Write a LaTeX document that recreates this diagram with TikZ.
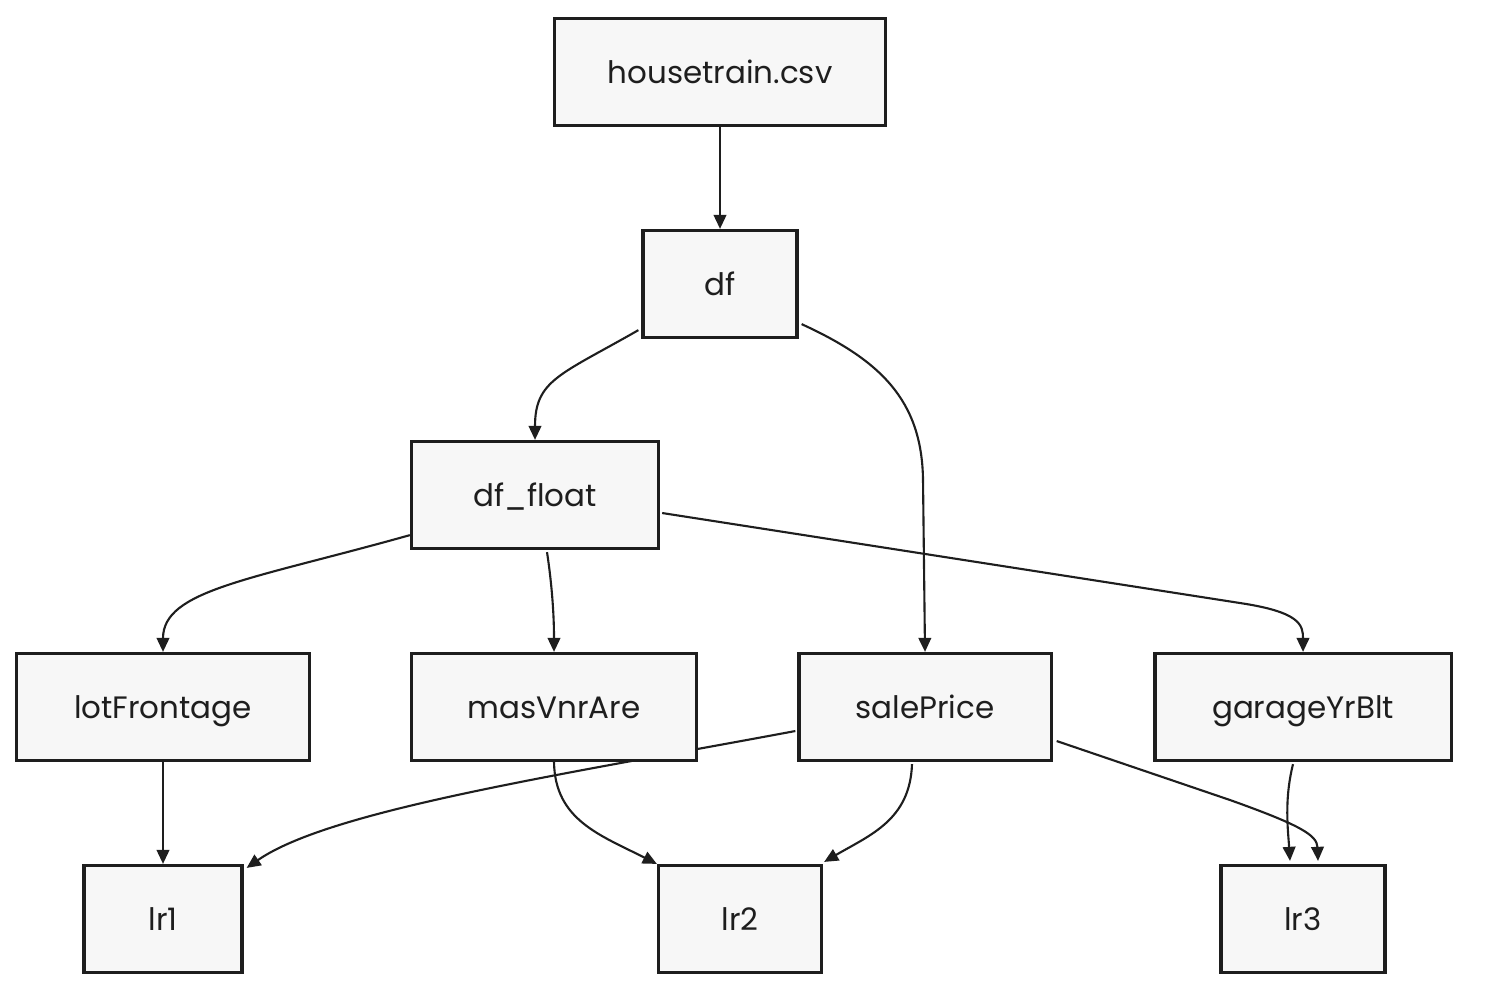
\documentclass[tikz,border=0pt]{standalone}
\usepackage{fontspec}
\setmainfont{Poppins}
\usepackage{tikz}
\usetikzlibrary{arrows.meta,calc,backgrounds}

\definecolor{inkc}{HTML}{1E1E1E}
\definecolor{boxfill}{HTML}{F7F7F7}

\tikzset{
    databox/.style={draw=inkc, fill=boxfill, line width=0.9pt, minimum height=1.07cm,
        inner sep=0pt, text height=6.8pt, text depth=0pt,
        font=\fontsize{8.8}{10}\selectfont, text=inkc},
    flow/.style={draw=inkc, line width=0.6pt, -{Triangle[length=4pt,width=3.6pt]}}
}

\begin{document}
\begin{tikzpicture}[x=0.01cm, y=-0.01cm]
\useasboundingbox (0,0) rectangle (1486,1002);
\node[databox, minimum width=3.3cm] (csv) at (720,72) {housetrain.csv};
\node[databox, minimum width=1.54cm] (df) at (720,284) {df};
\node[databox, minimum width=2.47cm] (dffloat) at (535,495) {df\_float};
\node[databox, minimum width=2.93cm] (lotfront) at (163,707) {lotFrontage};
\node[databox, minimum width=2.85cm] (masvnr) at (554,707) {masVnrAre};
\node[databox, minimum width=2.52cm] (saleprice) at (925,707) {salePrice};
\node[databox, minimum width=2.96cm] (garage) at (1303,707) {garageYrBlt};
\node[databox, minimum width=1.58cm] (lrone) at (163,919) {lr1};
\node[databox, minimum width=1.63cm] (lrtwo) at (740,919) {lr2};
\node[databox, minimum width=1.64cm] (lrthree) at (1303,919) {lr3};

\begin{scope}[on background layer]
\draw[flow] (csv.south) -- (df.north);
\draw[flow] ($(df.south west)+(-3,-9)$) .. controls (560,375) and (535,380) .. (dffloat.north);
\draw[flow] ($(df.south east)+(3,-15)$) .. controls (880,360) and (922,400) .. (923,480) -- (saleprice.north);
\draw[flow] ($(dffloat.south west)+(0,-15)$) .. controls (250,580) and (163,590) .. (lotfront.north);
\draw[flow] ($(dffloat.south)+(12,2)$) .. controls (552,585) and (554,615) .. (masvnr.north);
\draw[flow] ($(dffloat.east)+(2,18)$) -- (1240,603) .. controls (1300,612) and (1303,625) .. (garage.north);
\draw[flow] (lotfront.south) -- (lrone.north);
\draw[flow] (masvnr.south) .. controls (555,820) and (600,835) .. (lrtwo.north west);
\draw[flow] ($(saleprice.west)+(-2,24)$) .. controls (560,775) and (330,810) .. ($(lrone.north east)+(3,4)$);
\draw[flow] ($(saleprice.south)+(-13,2)$) .. controls (910,820) and (870,835) .. ($(lrtwo.north east)+(1,-2)$);
\draw[flow] ($(saleprice.east)+(4,34)$) -- (1230,800) .. controls (1300,825) and (1317,835) .. ($(lrthree.north)+(15,-3)$);
\draw[flow] ($(garage.south)+(-10,2)$) .. controls (1284,800) and (1288,830) .. ($(lrthree.north)+(-13,-3)$);
\end{scope}
\end{tikzpicture}
\end{document}
